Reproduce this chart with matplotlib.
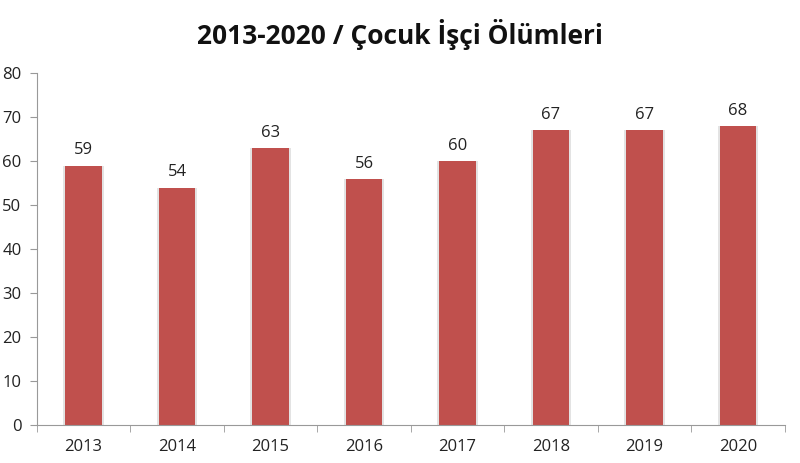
import matplotlib
matplotlib.use("Agg")
import matplotlib.pyplot as plt
import numpy as np

years = ["2013", "2014", "2015", "2016", "2017", "2018", "2019", "2020"]
deaths = [59, 54, 63, 56, 60, 67, 67, 68]
title = "2013-2020 / Çocuk İşçi Ölümleri"

plt.rcParams['font.family'] = ["Open Sans", 'DejaVu Sans']

fig = plt.figure(figsize=(8, 4.63), dpi=100)
ax = fig.add_axes([0.046, 0.082, 0.935, 0.76])
x = np.arange(len(years))
# shadow-like border
ax.bar(x, deaths, width=0.43, color="#e3e3e3", zorder=1)
bars = ax.bar(x, deaths, width=0.39, color="#C0504D", zorder=2)
for xi, v in zip(x, deaths):
    ax.text(xi, v + 1.6, str(v), ha="center", va="bottom", fontsize=12, color="#222222")

ax.set_xlim(-0.5, len(years) - 0.5)
ax.set_ylim(0, 80)
ax.set_yticks(range(0, 81, 10))
ax.set_xticks(x)
ax.set_xticklabels(years)
ax.set_xticks(np.arange(-0.5, len(years), 1), minor=True)
ax.tick_params(axis="x", which="major", length=0, labelsize=12, pad=10, colors="#222222")
ax.tick_params(axis="x", which="minor", length=5, color="#999999")
ax.tick_params(axis="y", length=5, color="#999999", labelsize=12, labelcolor="#222222", pad=6)
for s in ["top", "right"]:
    ax.spines[s].set_visible(False)
for s in ["left", "bottom"]:
    ax.spines[s].set_color("#999999")
fig.text(0.5, 0.925, title, ha="center", va="center", fontsize=19, fontweight="bold", color="#111111")
fig.savefig("out.png", dpi=100)
